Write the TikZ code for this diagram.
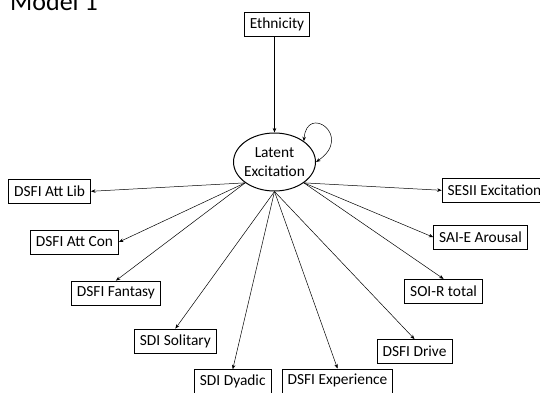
\documentclass[tikz,border=0pt]{standalone}
\usepackage{fontspec}
\setmainfont{Carlito}
\usetikzlibrary{shapes.geometric,arrows.meta}
\tikzset{
  var/.style={draw, line width=0.8pt, rectangle, inner xsep=5.5pt, inner ysep=0pt,
    minimum height=24pt, font=\fontsize{15.4}{18}\selectfont},
  lat/.style={draw, line width=1pt, ellipse, minimum width=82pt, minimum height=58pt, inner sep=0pt},
  conn/.style={line width=0.5pt, -{Stealth[length=4.5pt,width=3.5pt]}},
  loopc/.style={line width=0.5pt, {Stealth[length=4.5pt,width=3.5pt]}-{Stealth[length=4.5pt,width=3.5pt]}}
}
\begin{document}
\begin{tikzpicture}[x=1pt,y=-1pt]
\useasboundingbox (0,0) rectangle (540,392);
\clip (0,0) rectangle (540,392);
\node[anchor=base west, inner sep=0pt, font=\fontsize{26}{30}\selectfont] (title) at (10,10) {Model 1};
\node[var] (eth) at (277,24.5) {Ethnicity};
\node[lat] (ell) at (274.5,162) {};
\node[align=center, inner sep=0pt, font=\fontsize{15.4}{19}\selectfont] (elltext) at (274.5,162) {Latent\\Excitation};
\node[var, anchor=west] (attlib) at (8.3,191.3) {DSFI Att Lib};
\node[var, anchor=west] (sesii) at (441.7,190.3) {SESII Excitation};
\node[var, anchor=west] (attcon) at (30,242) {DSFI Att Con};
\node[var, anchor=west] (fantasy) at (71,293) {DSFI Fantasy};
\node[var, anchor=west] (solitary) at (134,341) {SDI Solitary};
\node[var, anchor=north west] (dyadic) at (194,369.3) {SDI Dyadic};
\node[var, anchor=north west] (experience) at (281.7,368.5) {DSFI Experience};
\node[var, anchor=west] (drive) at (376.7,351.5) {DSFI Drive};
\node[var, anchor=west] (soir) at (404.3,291.3) {SOI-R total};
\node[var, anchor=west] (saie) at (433.3,237.2) {SAI-E Arousal};
% connectors
\draw[conn] (eth.south -| ell.north) -- (ell.north);
\draw[loopc] (ell.north east) .. controls +(3,-38) and +(38,-26) .. (ell.east);
\draw[conn] (ell.south west) -- (attlib.east);
\draw[conn] (ell.south west) -- (attcon.east);
\draw[conn] (ell.south west) -- (fantasy.north);
\draw[conn] (ell.south) -- (solitary.north);
\draw[conn] (ell.south) -- (dyadic.north);
\draw[conn] (ell.south) -- (experience.north);
\draw[conn] (ell.south) -- (drive.north);
\draw[conn] (ell.south east) -- (soir.north);
\draw[conn] (ell.south east) -- (saie.west);
\draw[conn] (ell.south east) -- (sesii.west);
\end{tikzpicture}
\end{document}
